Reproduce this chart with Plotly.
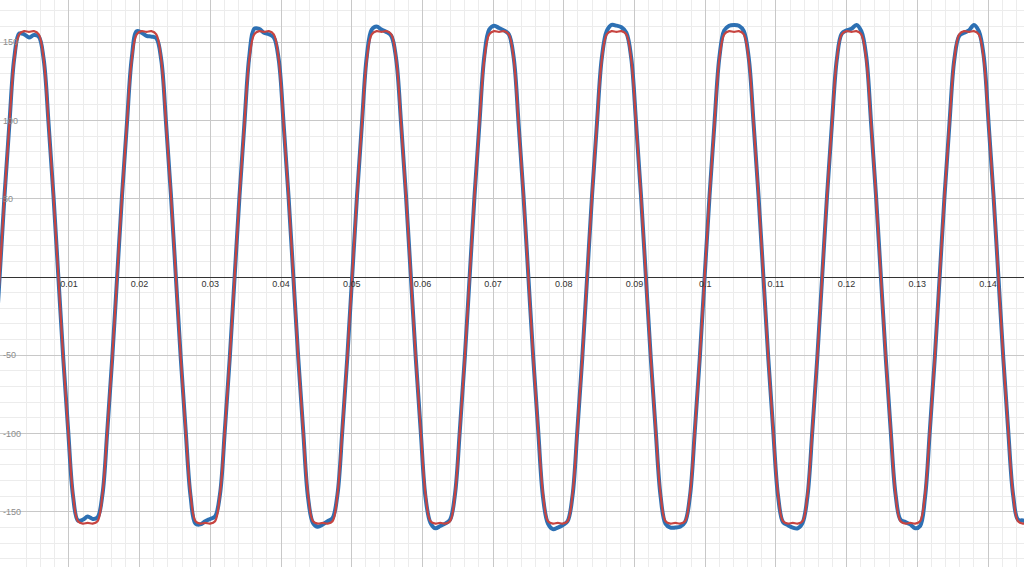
import plotly.graph_objects as go

# ---- data ----
# time of the first upward zero crossing and the period (seconds)
T_START = 0.0002
PERIOD = 0.01662
SAMPLES_PER_CYCLE = 24

# value just before the first crossing (left edge)
RED_LEAD = -52
BLUE_LEAD = -52

# red curve, one list per cycle (24 samples per cycle, last cycle partial)
RED_CYCLES = [
    [0, 52, 98, 139, 155, 157, 156.5, 157, 155, 139, 98, 52, 0, -52, -98, -139, -156, -157.5, -157, -157.5, -156, -139, -98, -52],
    [0, 52, 98, 139, 155, 157, 156.5, 157, 155, 139, 98, 52, 0, -52, -98, -139, -156, -157.5, -157, -157.5, -156, -139, -98, -52],
    [0, 52, 98, 139, 155, 157, 156.5, 157, 155, 139, 98, 52, 0, -52, -98, -139, -156, -157.5, -157, -157.5, -156, -139, -98, -52],
    [0, 52, 98, 139, 155, 157, 156.5, 157, 155, 139, 98, 52, 0, -52, -98, -139, -156, -157.5, -157, -157.5, -156, -139, -98, -52],
    [0, 52, 98, 139, 155, 157, 156.5, 157, 155, 139, 98, 52, 0, -52, -98, -139, -156, -157.5, -157, -157.5, -156, -139, -98, -52],
    [0, 52, 98, 139, 155, 157, 156.5, 157, 155, 139, 98, 52, 0, -52, -98, -139, -156, -157.5, -157, -157.5, -156, -139, -98, -52],
    [0, 52, 98, 139, 155, 157, 156.5, 157, 155, 139, 98, 52, 0, -52, -98, -139, -156, -157.5, -157, -157.5, -156, -139, -98, -52],
    [0, 52, 98, 139, 155, 157, 156.5, 157, 155, 139, 98, 52, 0, -52, -98, -139, -156, -157.5, -157, -157.5, -156, -139, -98, -52],
    [0, 52, 98, 139, 155, 157, 156.5, 157, 155, 139, 98, 52, 0, -52, -98, -139, -156, -157.5, -157],
]

# blue curve, one list per cycle
BLUE_CYCLES = [
    [0, 52, 98, 140, 155.5, 155, 153, 154.5, 153.5, 139, 98, 52, 0, -52, -98, -140, -155.5, -155, -153, -154.5, -153.5, -139, -98, -52],
    [0, 52, 98, 140, 157, 156, 154, 153.5, 152.5, 139, 98, 52, 0, -52, -98, -140, -157.5, -158, -156, -154.5, -153, -139, -98, -52],
    [0, 52, 98, 141, 158.5, 158.5, 156, 155, 153, 139, 98, 52, 0, -52, -98, -141, -157, -159.5, -158, -156, -154, -139, -98, -52],
    [0, 52, 98, 141, 158, 160, 158, 156.5, 154, 139, 98, 52, 0, -52, -98, -141, -157, -160.5, -159, -157.5, -155, -139, -98, -52],
    [0, 52, 98, 141, 158, 160.5, 159, 157.5, 155, 140, 98, 52, 0, -52, -98, -141, -157.5, -161, -160, -158.5, -156, -140, -98, -52],
    [0, 52, 98, 140, 157, 161, 160.5, 159.5, 156, 140, 98, 52, 0, -52, -98, -140, -157.5, -160, -160, -159.5, -156.5, -140, -98, -52],
    [0, 52, 98, 140, 157.5, 160.5, 161, 160.5, 157, 140, 98, 52, 0, -52, -98, -140, -156.5, -158.5, -160, -160.5, -157, -140, -98, -52],
    [0, 52, 98, 139, 155.5, 157.5, 158.5, 161, 157, 141, 98, 52, 0, -52, -98, -139, -155, -156.5, -158, -160.5, -159, -141, -98, -52],
    [0, 52, 98, 139, 154, 156, 157.5, 161, 157, 141, 98, 52, 0, -52, -98, -139, -155, -155.5, -157],
]

X_TICKS = [0.01, 0.02, 0.03, 0.04, 0.05, 0.06, 0.07, 0.08, 0.09, 0.10, 0.11, 0.12, 0.13, 0.14]
X_LABELS = ["0.01", "0.02", "0.03", "0.04", "0.05", "0.06", "0.07", "0.08", "0.09", "0.1", "0.11", "0.12", "0.13", "0.14"]
Y_TICKS = [-150, -100, -50, 50, 100, 150]
Y_LABELS = ["-150", "-100", "-50", "50", "100", "150"]

X_RANGE = [0.000255, 0.14509]
Y_RANGE = [-185.2, 176.9]

# ---- build series ----
dt = PERIOD / SAMPLES_PER_CYCLE


def build(lead, cycles):
    xs = [T_START - dt]
    ys = [lead]
    for c, vals in enumerate(cycles):
        for k, v in enumerate(vals):
            xs.append(T_START + c * PERIOD + k * dt)
            ys.append(v)
    return xs, ys


bx, by = build(BLUE_LEAD, BLUE_CYCLES)
rx, ry = build(RED_LEAD, RED_CYCLES)

fig = go.Figure()
fig.add_trace(go.Scatter(x=bx, y=by, mode="lines",
                         line=dict(color="#2d70b3", width=4, shape="spline", smoothing=1),
                         hoverinfo="skip", showlegend=False))
fig.add_trace(go.Scatter(x=rx, y=ry, mode="lines",
                         line=dict(color="#c74440", width=2.2, shape="spline", smoothing=1),
                         hoverinfo="skip", showlegend=False))

label_font = dict(family="Liberation Sans, Arial, sans-serif", size=9)

fig.update_layout(
    width=1024, height=567,
    margin=dict(l=0, r=0, t=0, b=0),
    paper_bgcolor="white", plot_bgcolor="white",
    xaxis=dict(
        range=X_RANGE, tickmode="array", tickvals=X_TICKS, ticktext=X_LABELS,
        showgrid=True, gridcolor="#c8c8c8", gridwidth=1,
        minor=dict(dtick=0.002, tick0=0, showgrid=True, gridcolor="#ececec", gridwidth=1),
        zeroline=False, showline=False, ticks="",
        anchor="free", position=(0 - Y_RANGE[0]) / (Y_RANGE[1] - Y_RANGE[0]),
        tickfont=dict(color="#333333", **label_font),
        fixedrange=True,
    ),
    yaxis=dict(
        range=Y_RANGE, tickmode="array", tickvals=Y_TICKS, ticktext=Y_LABELS,
        showgrid=True, gridcolor="#c8c8c8", gridwidth=1,
        minor=dict(dtick=10, tick0=0, showgrid=True, gridcolor="#ececec", gridwidth=1),
        zeroline=True, zerolinecolor="#333333", zerolinewidth=1.3,
        showline=False, ticks="", ticklabelposition="inside",
        tickfont=dict(color="#8c8c8c", **label_font),
        fixedrange=True,
    ),
)

fig.write_html("out.html", config={"displayModeBar": False},
               post_script="document.body.style.margin='0';document.body.style.overflow='hidden';")
